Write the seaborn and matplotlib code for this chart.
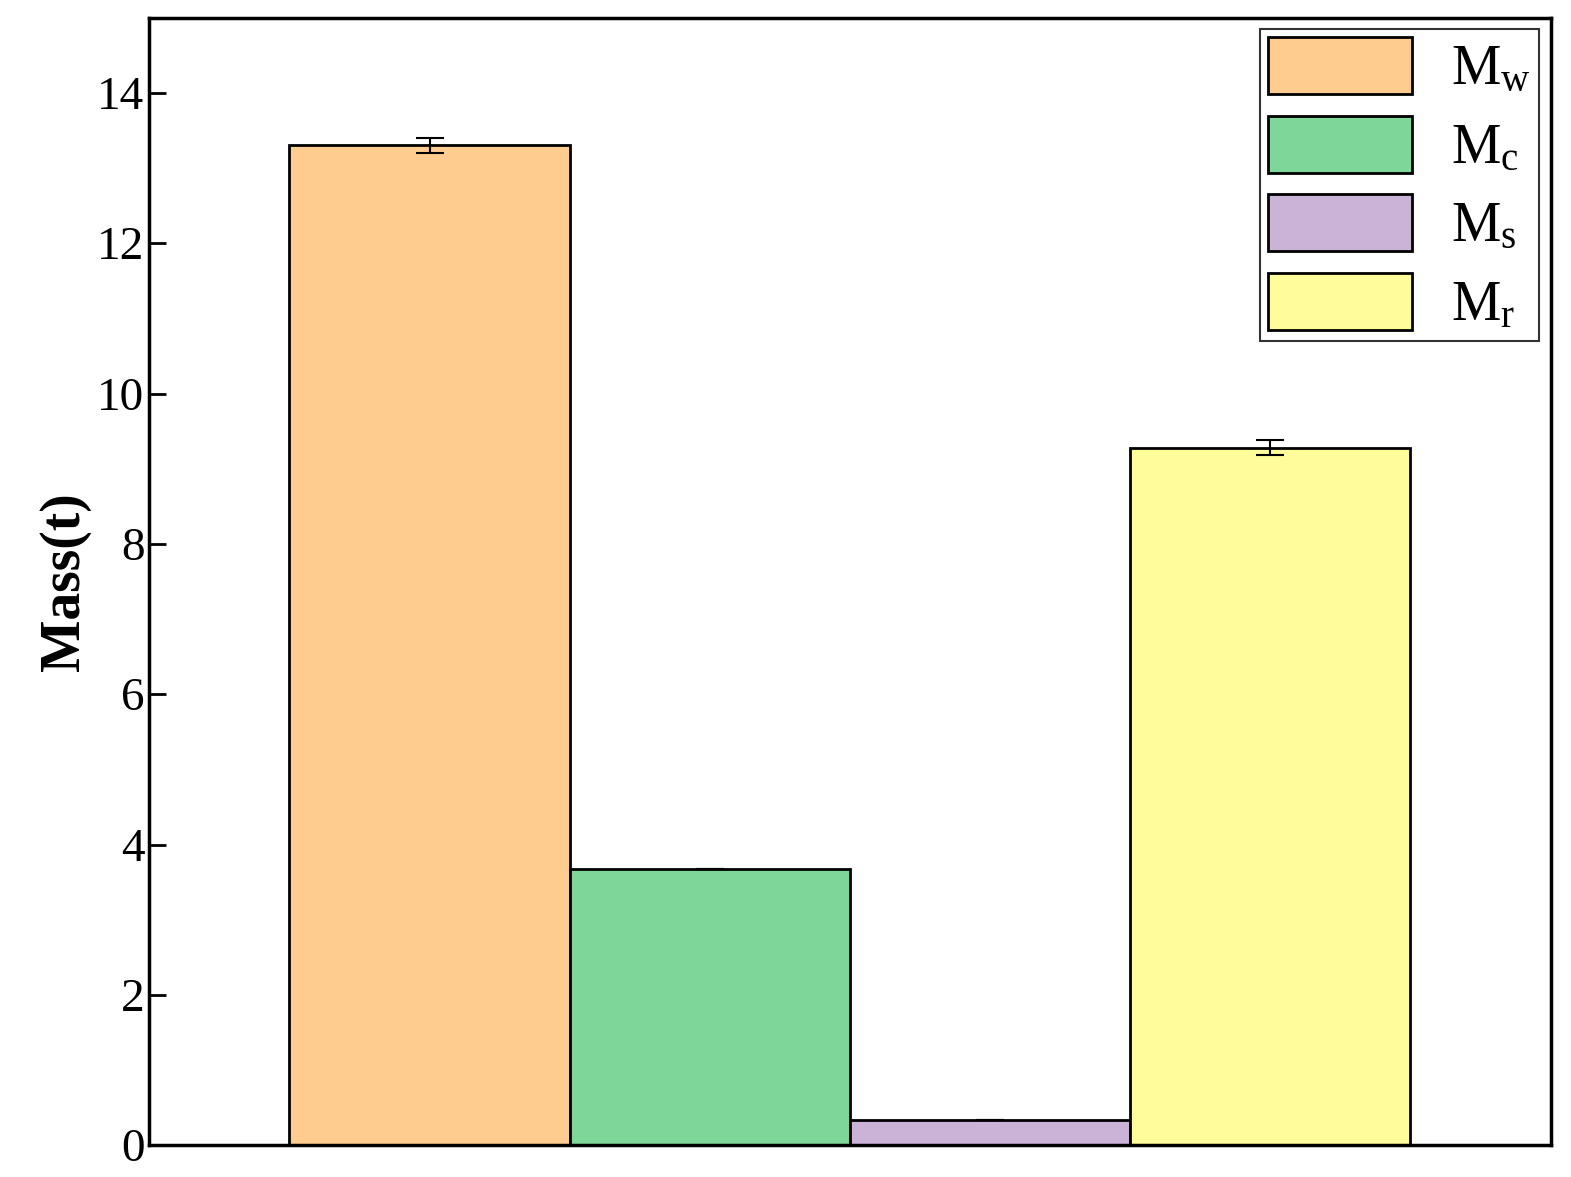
import seaborn as sns
import matplotlib.pyplot as plt
import pandas as pd

# data
labels = [r"$\mathrm{M_w}$", r"$\mathrm{M_c}$", r"$\mathrm{M_s}$", r"$\mathrm{M_r}$"]
values = [13.3, 3.67, 0.33, 9.28]
errors = [0.1, 0.0, 0.0, 0.1]
colors = ["#FFCC8F", "#7FD699", "#CBB3D8", "#FFFC99"]

sns.set_style("ticks")
plt.rcParams['font.family'] = ['Liberation Serif', 'DejaVu Serif']
plt.rcParams['mathtext.fontset'] = 'custom'
plt.rcParams['mathtext.rm'] = 'Liberation Serif'
plt.rcParams['text.color'] = 'black'
plt.rcParams['axes.labelcolor'] = 'black'
plt.rcParams['ytick.color'] = 'black'
plt.rcParams['axes.edgecolor'] = 'black'

df = pd.DataFrame({"name": labels, "mass": values})

fig, ax = plt.subplots(figsize=(15.71, 11.77), dpi=100)
sns.barplot(data=df, x="name", y="mass", hue="name", palette=colors,
            width=1.0, dodge=False, edgecolor="black", linewidth=2,
            saturation=1, legend=False, ax=ax)
ax.errorbar(range(len(values)), values, yerr=errors, fmt="none",
            ecolor="black", elinewidth=1.5, capsize=10, capthick=1.5)

ax.set_xlim(-1, 4)
ax.set_ylim(0, 15)
ax.set_xticks([])
ax.set_xlabel("")
ax.set_yticks(range(0, 15, 2))
ax.tick_params(axis="y", labelsize=34, width=2, length=12, direction="in")
ax.set_ylabel("Mass(t)", fontsize=40, fontweight="bold")
for s in ax.spines.values():
    s.set_linewidth(2.5)

handles = [plt.Rectangle((0, 0), 1, 1, facecolor=c, edgecolor="black", linewidth=2)
           for c in colors]
leg = ax.legend(handles, labels, loc="upper right", fontsize=40, frameon=True,
                fancybox=False, edgecolor="black", handlelength=2.6,
                handleheight=1.2, borderpad=0.15, labelspacing=0.35,
                handletextpad=0.7, borderaxespad=0.2)
leg.get_frame().set_linewidth(1.5)

plt.subplots_adjust(left=0.095, right=0.987, top=0.985, bottom=0.027)
plt.savefig("out.png", dpi=100)
